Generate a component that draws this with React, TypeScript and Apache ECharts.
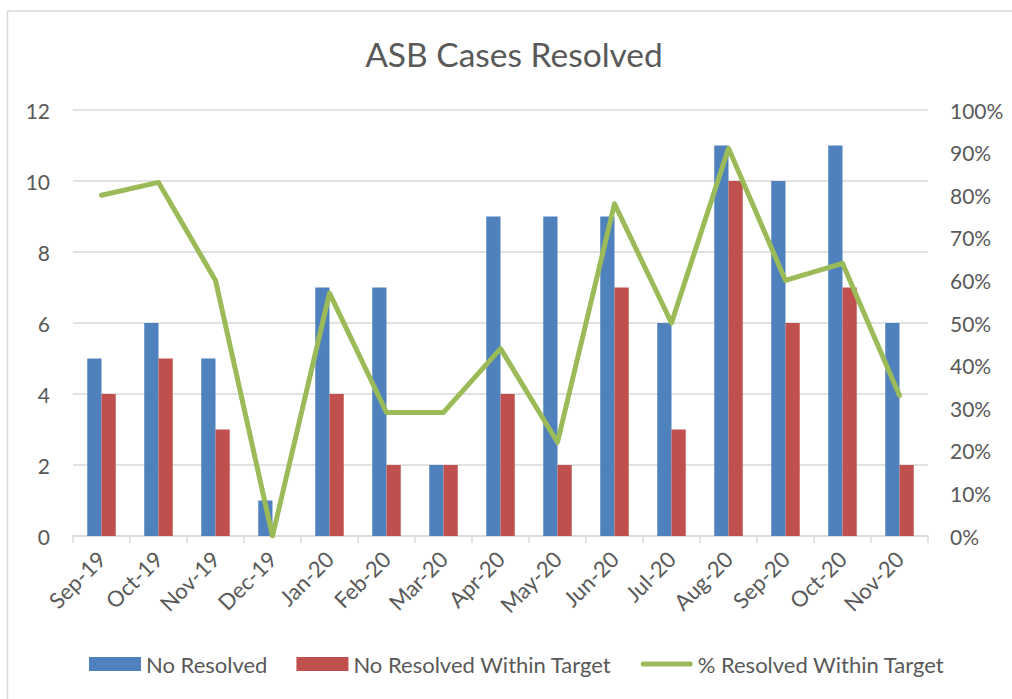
import React, { useEffect, useRef } from "react";
import * as echarts from "echarts";

const categories = ["Sep-19", "Oct-19", "Nov-19", "Dec-19", "Jan-20", "Feb-20", "Mar-20", "Apr-20", "May-20", "Jun-20", "Jul-20", "Aug-20", "Sep-20", "Oct-20", "Nov-20"];
const noResolved = [5, 6, 5, 1, 7, 7, 2, 9, 9, 9, 6, 11, 10, 11, 6];
const noResolvedWithinTarget = [4, 5, 3, 0, 4, 2, 2, 4, 2, 7, 3, 10, 6, 7, 2];
const pctResolvedWithinTarget = [0.8, 0.83, 0.6, 0, 0.57, 0.29, 0.29, 0.44, 0.22, 0.78, 0.5, 0.91, 0.6, 0.64, 0.33];

const FONT = "Lato, 'Open Sans', sans-serif";
const TXT = "#595959";
const GRID = "#D9D9D9";
const LINE_ICON = "path://M2.5,0 H49.5 A2.5,2.5 0 0 1 49.5,5 H2.5 A2.5,2.5 0 0 1 2.5,0 Z";

export default function App() {
  const ref = useRef<HTMLDivElement>(null);
  useEffect(() => {
    if (!ref.current) return;
    const chart = echarts.init(ref.current, null, { renderer: "svg" });
    chart.setOption({
      animation: false,
      backgroundColor: "#ffffff",
      textStyle: { fontFamily: FONT },
      title: {
        text: "ASB Cases Resolved",
        left: 509,
        top: 32,
        textAlign: "center",
        textStyle: { fontFamily: FONT, fontSize: 33.5, fontWeight: "normal", color: TXT },
      },
      graphic: [
        {
          type: "line",
          shape: { x1: 7.5, y1: 11, x2: 1012, y2: 11 },
          style: { stroke: GRID, lineWidth: 1.5 },
          silent: true,
        },
        {
          type: "line",
          shape: { x1: 7.5, y1: 11, x2: 7.5, y2: 699 },
          style: { stroke: GRID, lineWidth: 1.5 },
          silent: true,
        },
      ],
      legend: {
        left: 89,
        top: 653,
        padding: 0,
        itemWidth: 52,
        itemHeight: 14,
        itemGap: 29,
        textStyle: { fontFamily: FONT, fontSize: 22, color: TXT },
        data: [
          { name: "No Resolved", icon: "rect" },
          { name: "No Resolved Within Target", icon: "rect" },
          { name: "% Resolved Within Target", icon: LINE_ICON },
        ],
      },
      grid: { left: 73, right: 84, top: 110, bottom: 163 },
      xAxis: {
        type: "category",
        data: categories,
        axisLine: { lineStyle: { color: GRID, width: 1.5 } },
        axisTick: { show: true, length: 7, lineStyle: { color: GRID, width: 1.5 } },
        axisLabel: { rotate: 45, margin: 19, fontFamily: FONT, fontSize: 22, color: TXT, interval: 0 },
      },
      yAxis: [
        {
          type: "value",
          min: 0,
          max: 12,
          interval: 2,
          axisLine: { show: false },
          axisTick: { show: false },
          splitLine: { lineStyle: { color: GRID, width: 1.5 } },
          axisLabel: { margin: 23, fontFamily: FONT, fontSize: 21, color: TXT },
        },
        {
          type: "value",
          min: 0,
          max: 1,
          interval: 0.1,
          axisLine: { show: false },
          axisTick: { show: false },
          splitLine: { show: false },
          axisLabel: {
            margin: 22,
            fontFamily: FONT,
            fontSize: 21,
            color: TXT,
            formatter: (v: number) => Math.round(v * 100) + "%",
          },
        },
      ],
      series: [
        {
          name: "No Resolved",
          type: "bar",
          data: noResolved,
          barWidth: "25%",
          barGap: "0%",
          itemStyle: { color: "#4F81BD" },
        },
        {
          name: "No Resolved Within Target",
          type: "bar",
          data: noResolvedWithinTarget,
          barWidth: "25%",
          barGap: "0%",
          itemStyle: { color: "#C0504D" },
        },
        {
          name: "% Resolved Within Target",
          type: "line",
          yAxisIndex: 1,
          data: pctResolvedWithinTarget,
          showSymbol: false,
          symbol: "none",
          lineStyle: { color: "#9BBB59", width: 5, cap: "round", join: "round" },
          itemStyle: { color: "#9BBB59" },
        },
      ],
    });
    return () => chart.dispose();
  }, []);
  return (
    <div
      ref={ref}
      style={{ position: "fixed", left: 0, top: 0, width: 1012, height: 699, background: "#fff" }}
    />
  );
}
